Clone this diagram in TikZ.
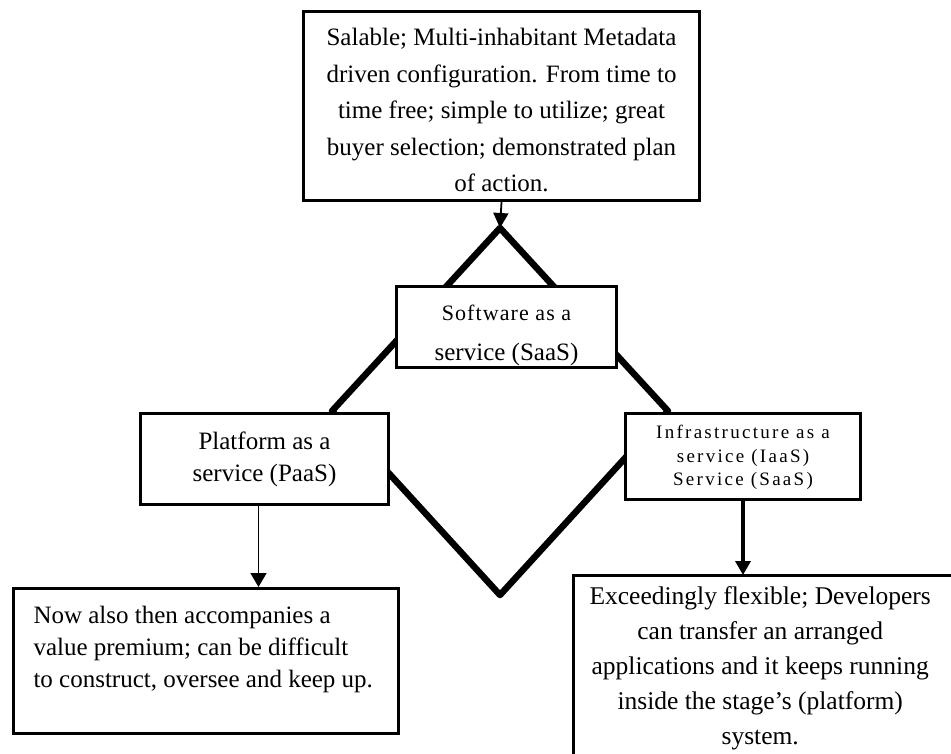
\documentclass[tikz,border=0pt]{standalone}
\usepackage{fontspec}
\setmainfont{Liberation Serif}
\newfontfamily\spacedfont[LetterSpace=12]{Liberation Serif}
\newfontfamily\lspacedfont[LetterSpace=5]{Liberation Serif}
\usetikzlibrary{arrows.meta,calc}
\newcommand{\boxtext}[4]{\begin{minipage}[c][#2pt][t]{#1pt}\vspace*{#3pt}#4\end{minipage}}
\begin{document}
\begin{tikzpicture}[x=1pt,y=-1pt,
  box/.style={draw, line width=3pt, fill=white, inner sep=0pt, anchor=north west},
  frame/.style={line width=3pt},
  dia/.style={line width=6.5pt, line join=round},
  thinarrow/.style={line width=1.5pt, -{Triangle[length=14pt,width=16pt]}},
  toparrow/.style={line width=1.8pt, -{Triangle[length=15pt,width=15pt]}},
  thickarrow/.style={line width=3.5pt, -{Triangle[length=14pt,width=15pt]}}]
\useasboundingbox (0,0) rectangle (951,753);
\clip (0,0) rectangle (951,753);
\fill[white] (0,0) rectangle (951,753);
% diamond
\coordinate (dT) at (500,228);
\coordinate (dL) at (332,411);
\coordinate (dB) at (500,595);
\coordinate (dR) at (668,411);
\draw[dia] (dT) -- (dL) -- (dB) -- (dR) -- cycle;
% boxes
\node[box] (top) at (302,10) {\boxtext{396}{189}{17}{\centering\fontsize{25}{36.5}\selectfont Salable; Multi-inhabitant Metadata\\ driven configuration. From time to\\ time free; simple to utilize; great\\ buyer selection; demonstrated plan\\ of action.\par}};
\node[box] (saas) at (395,285) {\boxtext{220}{81}{19}{\centering\fontsize{25}{40}\selectfont{\lspacedfont\fontsize{22}{40}\selectfont Software as a}\\ service (SaaS)\par}};
\node[box] (paas) at (139,412) {\boxtext{248}{91}{18}{\centering\fontsize{25}{32}\selectfont Platform as a\\ service (PaaS)\par}};
\node[box] (iaas) at (624,412) {\boxtext{235}{86}{12}{\centering\spacedfont\fontsize{19}{23.5}\selectfont Infrastructure as a\\ service (IaaS)\\ Service (SaaS)\par}};
\node[box] (pcons) at (12,587) {\hspace{20pt}\boxtext{365}{145}{18}{\fontsize{25}{32}\selectfont Now also then accompanies a\\ value premium; can be difficult\\ to construct, oversee and keep up.\par}};
\node[inner sep=0pt, anchor=north west] (icons) at (573,575) {\boxtext{374}{178}{11}{\centering\fontsize{25.5}{35}\selectfont Exceedingly flexible; Developers\\ can transfer an arranged\\ applications and it keeps running\\ inside the stage’s (platform)\\ system.\par}};
\draw[frame] ([xshift=450pt]icons.north west) -- (icons.north west) -- ([yshift=-300pt]icons.north west);
% arrows
\draw[toparrow] (top.south) -- (dT);
\draw[thinarrow] ([xshift=-6pt]paas.south) -- ([xshift=-6pt]paas.south |- pcons.north);
\draw[thickarrow] (iaas.south) -- (iaas.south |- icons.north);
\end{tikzpicture}
\end{document}
